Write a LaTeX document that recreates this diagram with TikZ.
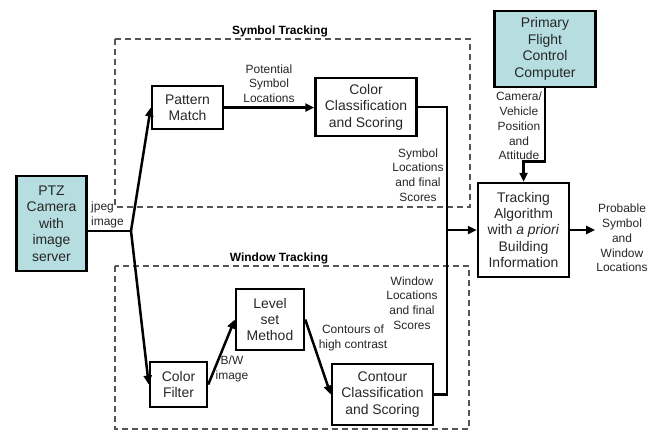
\documentclass[tikz,border=0pt]{standalone}
\usepackage{fontspec}
\setmainfont{Liberation Sans}
\usetikzlibrary{arrows.meta}

\definecolor{camfill}{RGB}{182,221,224}
\definecolor{dashgray}{RGB}{85,85,85}

\tikzset{
	box/.style={draw, line width=2.5bp, align=center, inner sep=1bp,
		font=\fontsize{14}{16.5}\selectfont, text=black!85},
	lbl/.style={align=center, inner sep=1bp, font=\fontsize{12}{14.8}\selectfont, text=black!85},
	title/.style={inner sep=1bp, font=\fontsize{12}{14}\selectfont\bfseries},
	grp/.style={draw=dashgray, line width=1.4bp, dash pattern=on 6bp off 4bp},
	conn/.style={line width=2.5bp},
	arr/.style={conn, -{Triangle[length=9bp,width=8bp]}}
}

\begin{document}
\begin{tikzpicture}[x=1bp,y=-1bp]
			\useasboundingbox (0,0) rectangle (655,431);

			% dashed groups
			\draw[grp] (115,39) rectangle (470,207);
			\draw[grp] (115,266) rectangle (469,429);
			\node[title] (symtitle) at (280,31) {Symbol Tracking};
			\node[title] (wintitle) at (279,258) {Window Tracking};

			% blocks
			\node[box, fill=camfill, minimum width=70bp, minimum height=95bp] (cam) at (51.5,223.5) {PTZ\\Camera\\with\\image\\server};
			\node[box, minimum width=71bp, minimum height=43bp] (pm) at (187.5,107.5) {Pattern\\Match};
			\node[box, minimum width=101bp, minimum height=58bp] (ccs) at (366,107) {Color\\Classification\\and Scoring};
			\node[box, fill=camfill, minimum width=101bp, minimum height=76bp] (pfcc) at (545,49) {Primary\\Flight\\Control\\Computer};
			\node[box, minimum width=91bp, minimum height=94bp] (ta) at (523.5,230) {Tracking\\Algorithm\\with \textit{a priori}\\Building\\Information};
			\node[box, minimum width=57bp, minimum height=45bp] (cf) at (178.5,384.5) {Color\\Filter};
			\node[box, minimum width=68bp, minimum height=61bp] (lsm) at (270,319.5) {Level\\set\\Method};
			\node[box, minimum width=101bp, minimum height=61bp] (ccc) at (382.5,394.5) {Contour\\Classification\\and Scoring};
			\node[lbl] (prob) at (622,238) {Probable\\Symbol\\and\\Window\\Locations};

			\coordinate (fork) at (131,231);
			\coordinate (merge) at (447,230);

			% connectors
			\draw[conn] (cam.east |- fork) -- (fork);
			\draw[arr] (fork) -- (pm.west);
			\draw[arr] (fork) -- (cf.west);
			\draw[arr] (pm.east) -- (ccs.west |- pm.east);
			\draw[conn] (ccs.east) -| (merge);
			\draw[conn] (ccc.east) -| (merge);
			\draw[arr] (merge) -- (ta.west);
			\draw[arr] (pfcc.south) -- ++(0,73) -| (ta.north);
			\draw[arr] (ta.east) -- (ta.east -| prob.west);
			\draw[arr] (cf.east) -- (lsm.west);
			\draw[arr] (lsm.east) -- (ccc.west);

			% labels
			\node[lbl, align=left, anchor=south west] (jpeg) at (90,229) {jpeg\\image};
			\node[lbl, anchor=south] (potlbl) at (269,104) {Potential\\Symbol\\Locations};
			\node[lbl] (symlbl) at (418,175) {Symbol\\Locations\\and final\\Scores};
			\node[lbl] (winlbl) at (412,303) {Window\\Locations\\and final\\Scores};
			\node[lbl] (poslbl) at (519,126) {Camera/\\Vehicle\\Position\\and\\Attitude};
			\node[lbl] (bwlbl) at (232,369) {B/W\\image};
			\node[lbl] (contlbl) at (353,338) {Contours of\\high contrast};
		\end{tikzpicture}
\end{document}
